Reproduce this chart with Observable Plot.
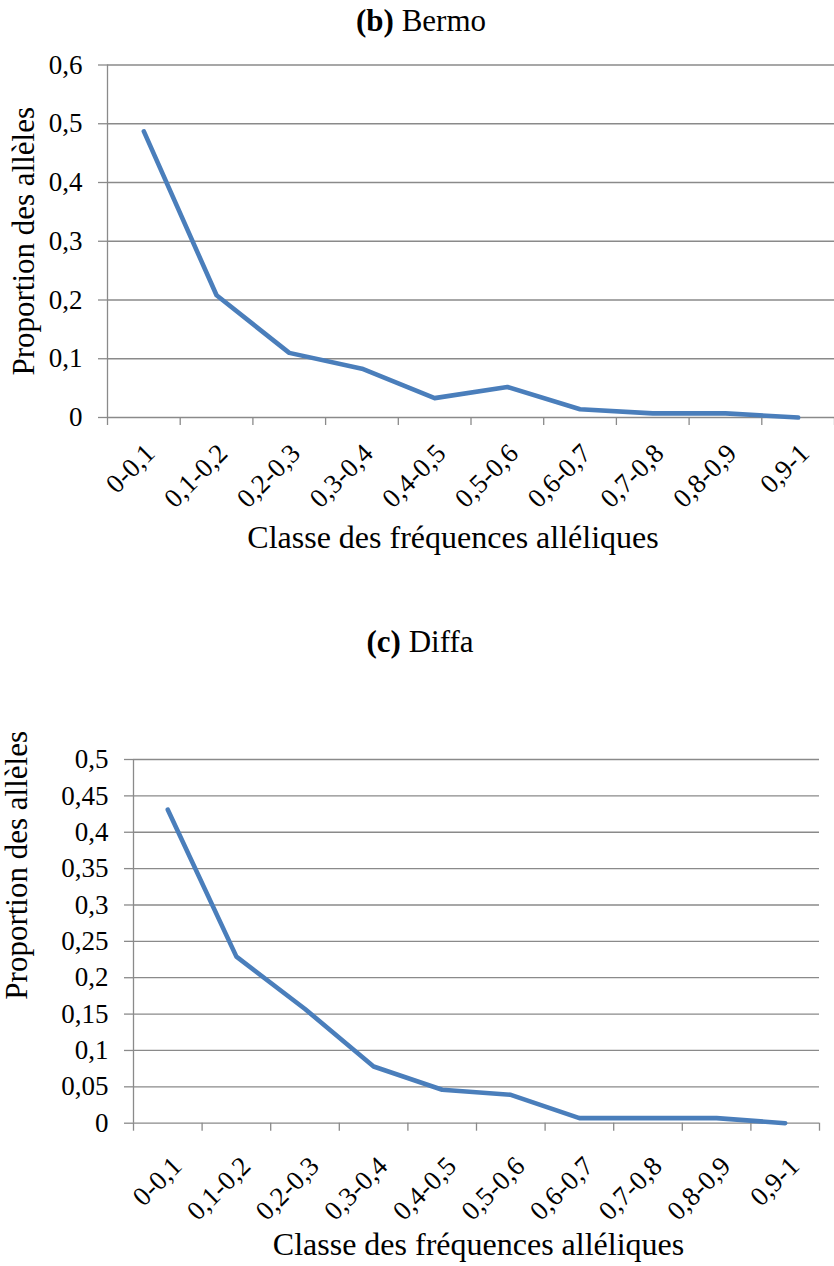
<!DOCTYPE html>
<html>
<head>
<meta charset="utf-8">
<script src="https://cdn.jsdelivr.net/npm/d3@7"></script>
<script src="https://cdn.jsdelivr.net/npm/@observablehq/plot@0.6"></script>
<style>
  html, body { margin: 0; padding: 0; background: #fff; }
  #wrap { position: relative; width: 834px; height: 1266px; overflow: hidden; font-family: "Liberation Serif", "Times New Roman", serif; }
  .title { position: absolute; left: 0; width: 834px; text-align: center; font-size: 31px; line-height: 31px; color: #000; }
  .chart { position: absolute; left: 0; }
  .chart svg { overflow: visible; }
  #wrap svg, #wrap svg text, #wrap svg g { font-family: "Liberation Serif", "Times New Roman", serif !important; }
</style>
</head>
<body>
<div id="wrap">
  <div class="title" id="t1" style="top:5px; padding-left:8px; width:826px;"><b>(b)</b> Bermo</div>
  <div class="chart" id="c1" style="top:0px;"></div>
  <div class="title" id="t2" style="top:626px; padding-left:6px; width:828px;"><b>(c)</b> Diffa</div>
  <div class="chart" id="c2" style="top:600px;"></div>
</div>
<script>
// Allelic frequency classes
const classes = ["0-0,1", "0,1-0,2", "0,2-0,3", "0,3-0,4", "0,4-0,5", "0,5-0,6", "0,6-0,7", "0,7-0,8", "0,8-0,9", "0,9-1"];
const classLower = [0, 0.1, 0.2, 0.3, 0.4, 0.5, 0.6, 0.7, 0.8, 0.9];
const classUpper = [0.1, 0.2, 0.3, 0.4, 0.5, 0.6, 0.7, 0.8, 0.9, 1];
const classBounds = [0, 0.1, 0.2, 0.3, 0.4, 0.5, 0.6, 0.7, 0.8, 0.9, 1];

// Proportion of alleles per class
const bermo = [0.487, 0.208, 0.110, 0.083, 0.033, 0.052, 0.014, 0.007, 0.007, 0.000];
const diffa = [0.431, 0.229, 0.157, 0.078, 0.046, 0.039, 0.007, 0.007, 0.007, 0.000];

// Y tick labels
const yTicksBermo = [0, 0.1, 0.2, 0.3, 0.4, 0.5, 0.6];
const yTicksDiffa = [0, 0.05, 0.1, 0.15, 0.2, 0.25, 0.3, 0.35, 0.4, 0.45, 0.5];

const yLabel = "Proportion des allèles";
const xLabel = "Classe des fréquences alléliques";

const fmt = d => String(d).replace(".", ",");
const GRID = "#8a8a8a";
const LINE = "#4a7ebb";
const FONT = "Liberation Serif";

function rows(values) {
  return classes.map((c, i) => ({cls: c, mid: (classLower[i] + classUpper[i]) / 2, v: values[i]}));
}

function chart(values, yTicks, o) {
  const data = rows(values);
  return Plot.plot({
    width: 834,
    height: o.height,
    marginTop: o.mt,
    marginBottom: o.mb,
    marginLeft: o.ml,
    marginRight: o.mr,
    style: {fontFamily: FONT, fontSize: "27px", color: "#000", background: "transparent", overflow: "visible"},
    x: {type: "linear", domain: [0, 1]},
    y: {domain: [0, yTicks[yTicks.length - 1]]},
    marks: [
      Plot.ruleY(yTicks, {stroke: GRID, strokeWidth: 1.3}),
      Plot.ruleX([0], {stroke: GRID, strokeWidth: 1.3}),
      Plot.axisY({ticks: yTicks, tickSize: 9, tickPadding: 16, tickFormat: fmt, stroke: GRID, strokeWidth: 1.3, fill: "#000", label: null, fontSize: 27, fontFamily: FONT}),
      Plot.axisX({ticks: classBounds, tickSize: 8, tickFormat: () => "", stroke: GRID, strokeWidth: 1.3, label: null}),
      Plot.lineY(data, {x: "mid", y: "v", stroke: LINE, strokeWidth: 4.6, strokeLinecap: "round", strokeLinejoin: "round"}),
      Plot.text(data, {x: "mid", text: "cls", frameAnchor: "bottom", rotate: -45, textAnchor: "end", lineAnchor: "top", dx: o.tdx, dy: o.tdy, fontSize: 27, fontFamily: FONT, fill: "#000"}),
      Plot.text([yLabel], {text: d => d, frameAnchor: "left", textAnchor: "middle", rotate: -90, lineAnchor: "bottom", dx: o.ydx, dy: o.ydy, fontSize: 31, fontFamily: FONT, fill: "#000"}),
      Plot.text([xLabel], {text: d => d, frameAnchor: "bottom", textAnchor: "middle", lineAnchor: "bottom", dx: o.xdx, dy: o.xdy, fontSize: 32, fontFamily: FONT, fill: "#000"})
    ]
  });
}

document.getElementById("c1").appendChild(chart(bermo, yTicksBermo, {
  height: 600, mt: 64.5, mb: 183, ml: 107, mr: 0,
  tdx: -1, tdy: 24, ydx: -74, ydy: 0, xdx: -18, xdy: 130
}));
document.getElementById("c2").appendChild(chart(diffa, yTicksDiffa, {
  height: 666, mt: 159, mb: 143.3, ml: 133, mr: 15,
  tdx: 2, tdy: 31, ydx: -107, ydy: -76, xdx: 2, xdy: 132
}));
</script>
</body>
</html>
